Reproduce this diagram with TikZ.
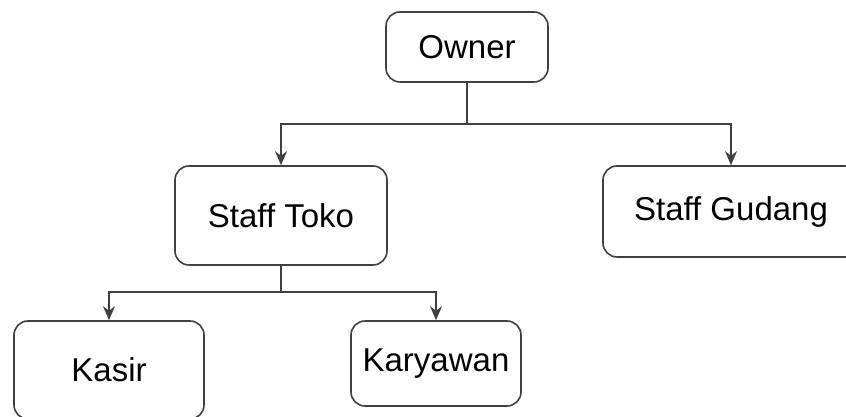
\documentclass[tikz,border=0pt]{standalone}
\usepackage{fontspec}
\setmainfont{Liberation Sans}
\usetikzlibrary{arrows.meta}
\tikzset{
  box/.style={draw=black!75, line width=1.6pt, rounded corners=14pt, fill=white,
    font=\fontsize{33}{40}\selectfont, align=center, inner sep=0pt},
  link/.style={draw=black!75, line width=1.6pt},
  arr/.style={link, -{Stealth[length=14pt,width=12pt]}}
}
\begin{document}
\begin{tikzpicture}[x=1pt,y=1pt]
    \useasboundingbox (0,0) rectangle (846,417);
    \node[box, minimum width=162pt, minimum height=70pt] (owner) at (467,370) {Owner};
    \node[box, minimum width=212pt, minimum height=99pt] (toko) at (281,201.5) {Staff Toko};
    \node[box, minimum width=256pt, minimum height=91pt] (gudang) at (731,205.5) {Staff Gudang};
    \node[box, minimum width=190pt, minimum height=98pt] (kasir) at (109,47) {Kasir};
    \node[box, minimum width=170pt, minimum height=85pt] (karyawan) at (436,53.5) {Karyawan};
    \coordinate (split1) at (467,293);
    \coordinate (split2) at (281,125);
    \draw[link] (owner.south) -- (split1);
    \draw[arr] (split1) -| (toko.north);
    \draw[arr] (split1) -| (gudang.north);
    \draw[link] (toko.south) -- (split2);
    \draw[arr] (split2) -| (kasir.north);
    \draw[arr] (split2) -| (karyawan.north);
\end{tikzpicture}
\end{document}
